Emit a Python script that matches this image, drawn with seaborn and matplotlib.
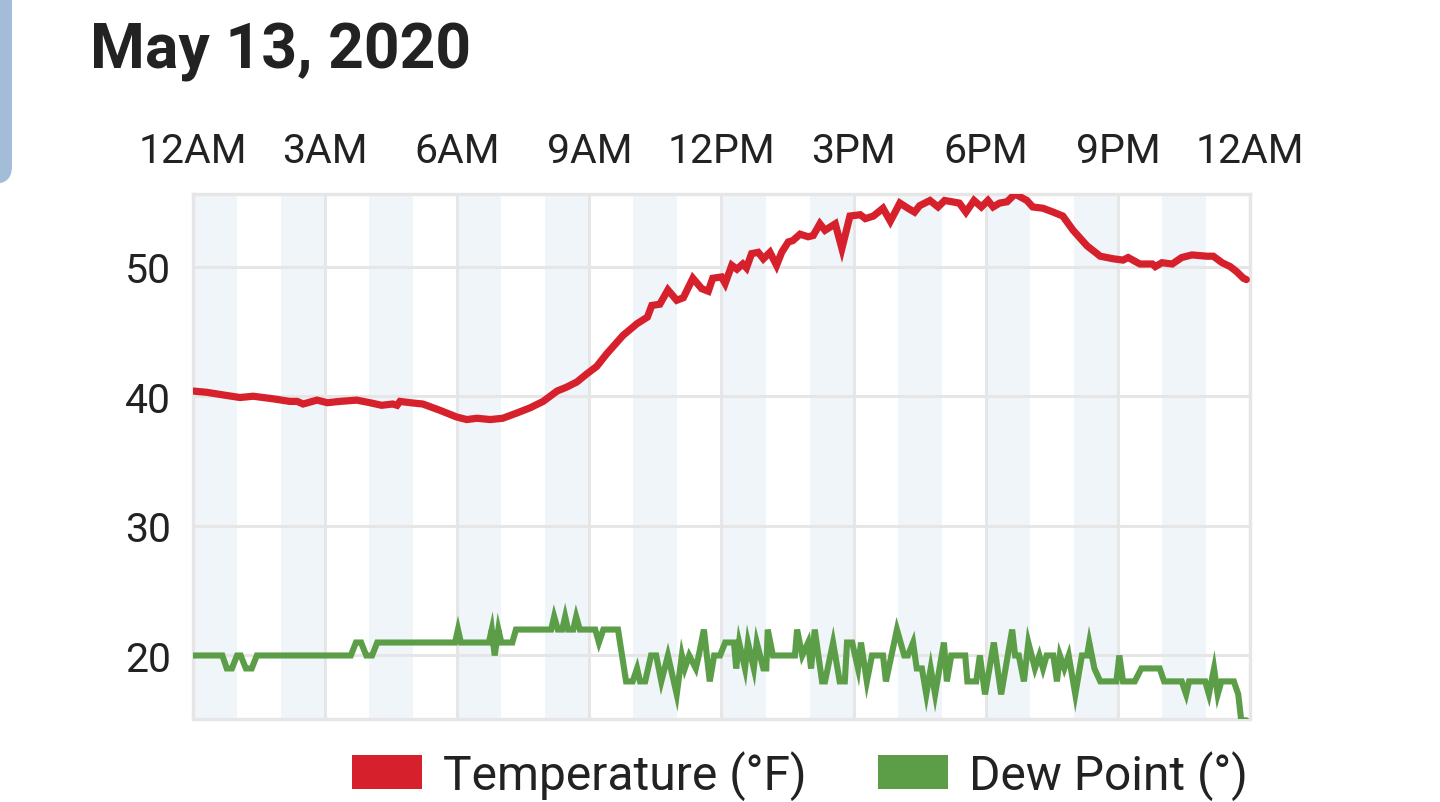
import matplotlib
matplotlib.use("Agg")
import matplotlib.pyplot as plt
from matplotlib.patches import Patch, FancyBboxPatch
import pandas as pd
import seaborn as sns

# -------------------------------
# Data (minutes after midnight)
# -------------------------------
temp_min = [0, 19, 41, 64, 82, 109, 132, 142, 150, 169, 183, 200, 223, 241, 257,
            272, 278, 282, 296, 313, 337, 359, 373, 387, 405, 422, 441, 459, 477,
            496, 509, 523, 536, 550, 564, 586, 605, 619, 625, 636, 647, 659, 668,
            681, 693, 702, 708, 720, 725, 734, 741, 749, 754, 761, 770, 777, 786,
            795, 802, 811, 817, 827, 838, 845, 854, 861, 875, 884, 895, 909, 916,
            927, 940, 950, 963, 974, 983, 990, 1004, 1015, 1024, 1044, 1053, 1064,
            1074, 1083, 1090, 1099, 1109, 1120, 1136, 1144, 1158, 1172, 1185, 1199,
            1218, 1236, 1254, 1267, 1274, 1290, 1307, 1311, 1320, 1334, 1347, 1361,
            1381, 1390, 1402, 1413, 1422, 1431, 1435]
temp_val = [40.4, 40.3, 40.1, 39.9, 40.0, 39.8, 39.6, 39.6, 39.4, 39.7, 39.5, 39.6,
            39.7, 39.5, 39.3, 39.4, 39.3, 39.6, 39.5, 39.4, 38.9, 38.4, 38.2, 38.3,
            38.2, 38.3, 38.7, 39.1, 39.6, 40.4, 40.7, 41.1, 41.7, 42.3, 43.3, 44.7,
            45.6, 46.1, 47.0, 47.1, 48.2, 47.4, 47.6, 49.1, 48.3, 48.1, 49.1, 49.2,
            48.7, 50.1, 49.8, 50.2, 49.9, 51.0, 51.1, 50.6, 51.1, 50.1, 51.1, 51.9,
            52.0, 52.5, 52.3, 52.4, 53.3, 52.8, 53.3, 51.4, 53.9, 54.0, 53.7, 53.9,
            54.5, 53.5, 54.9, 54.5, 54.2, 54.7, 55.1, 54.6, 55.1, 54.9, 54.2, 55.1,
            54.6, 55.1, 54.6, 54.9, 55.0, 55.6, 55.1, 54.6, 54.5, 54.2, 53.9, 52.8,
            51.6, 50.8, 50.6, 50.5, 50.7, 50.2, 50.2, 50.0, 50.3, 50.2, 50.7, 50.9,
            50.8, 50.8, 50.3, 50.0, 49.6, 49.1, 49.0]

dew_min = [0, 40, 46, 53, 60, 65, 72, 80, 87, 215, 222, 229, 236, 244, 251, 357,
           361, 365, 403, 407, 411, 416, 420, 435, 440, 488, 492, 497, 503, 507, 511,
           518, 522, 527, 548, 553, 559, 579, 590, 599, 605, 609, 616, 624, 631, 638,
           647, 659, 666, 670, 676, 685, 689, 696, 704, 710, 718, 725, 737, 740, 744,
           752, 756, 764, 768, 777, 781, 783, 790, 820, 823, 830, 838, 842, 847, 857,
           861, 872, 881, 888, 891, 898, 906, 910, 918, 925, 940, 944, 959, 969, 974,
           981, 986, 993, 999, 1005, 1011, 1023, 1027, 1033, 1052, 1055, 1067, 1072,
           1079, 1091, 1101, 1116, 1120, 1125, 1132, 1138, 1147, 1153, 1158, 1163,
           1172, 1177, 1181, 1187, 1193, 1202, 1211, 1218, 1221, 1228, 1236, 1258,
           1262, 1267, 1283, 1292, 1317, 1323, 1347, 1353, 1357, 1379, 1384, 1391,
           1396, 1401, 1418, 1424, 1428, 1435]
dew_val = [20, 20, 19, 19, 20, 20, 19, 19, 20, 20, 21, 21, 20, 20, 21, 21,
           22, 21, 21, 22, 20, 22, 21, 21, 22, 22, 23, 22, 22, 23, 22,
           22, 23, 22, 22, 21, 22, 22, 18, 18, 19, 18, 18, 20, 20, 18,
           20, 17, 20, 19, 20, 19, 20, 22, 18, 20, 20, 21, 21, 19, 21,
           19, 21, 19, 21, 19, 19, 22, 20, 20, 22, 20, 21, 19, 22, 18,
           18, 21, 18, 18, 21, 21, 19, 21, 18, 20, 20, 18, 22, 20, 20,
           21, 19, 19, 17, 19, 17, 21, 18, 20, 20, 18, 18, 20,
           17, 21, 17, 22, 20, 20, 18, 21, 19, 20, 19, 20,
           20, 18, 20, 19, 20, 17, 20, 20, 21, 19, 18, 18,
           20, 18, 18, 19, 19, 18, 18, 17, 18, 18, 17, 19,
           17, 18, 18, 17, 15, 15]

tick_labels = ["12AM", "3AM", "6AM", "9AM", "12PM", "3PM", "6PM", "9PM", "12AM"]
y_ticks = [20, 30, 40, 50]
series_names = ["Temperature (°F)", "Dew Point (°)"]
series_colors = ["#d6202b", "#5c9e48"]

temp_df = pd.DataFrame({"minute": temp_min, "value": temp_val})
dew_df = pd.DataFrame({"minute": dew_min, "value": dew_val})

# -------------------------------
# Style
# -------------------------------
sns.set_theme(style="white")
plt.rcParams["font.family"] = ["Roboto", "DejaVu Sans"]

W, H = 1440, 803
fig = plt.figure(figsize=(W / 100, H / 100), dpi=100)
ax = fig.add_axes([193 / W, 1 - 720 / H, (1250 - 193) / W, (720 - 195) / H])

# left tab of the page behind the chart
tab = FancyBboxPatch((-30 / W, 0.77), 42 / W, 0.3,
                     boxstyle="round,pad=0,rounding_size=0.012",
                     transform=fig.transFigure, facecolor="#a3bdd8",
                     edgecolor="none", mutation_aspect=W / H)
fig.patches.append(tab)

# light blue band every other hour
for h in range(0, 24, 2):
    ax.axvspan(h * 60, h * 60 + 60, color="#f0f5fa", lw=0, zorder=0)

sns.lineplot(data=temp_df, x="minute", y="value", ax=ax, color=series_colors[0],
             linewidth=5.2, estimator=None, zorder=4)
sns.lineplot(data=dew_df, x="minute", y="value", ax=ax, color=series_colors[1],
             linewidth=4.4, estimator=None, zorder=3)
for ln in ax.lines:
    ln.set_solid_joinstyle("miter")

ax.set_xlim(0, 1440)
ax.set_ylim(15.1, 55.6)
ax.set_xticks(range(0, 1441, 180))
ax.set_xticklabels(tick_labels)
ax.set_yticks(y_ticks)
ax.set_yticklabels([str(v) for v in y_ticks])
ax.xaxis.tick_top()
ax.tick_params(axis="x", length=0, pad=17, labelsize=29.5, labelcolor="#222222")
ax.tick_params(axis="y", length=0, pad=16, labelsize=29.5, labelcolor="#222222")
ax.set_xlabel("")
ax.set_ylabel("")

ax.grid(True, color="#e6e6e6", linewidth=2.2)
ax.set_axisbelow(True)
for sp in ax.spines.values():
    sp.set_color("#e6e6e6")
    sp.set_linewidth(2.4)
    sp.set_zorder(1)

fig.text(90 / W, 1 - 68 / H, "May 13, 2020", fontsize=45, fontweight="bold",
         color="#222222", va="baseline", ha="left")

handles = [Patch(facecolor=c, edgecolor="none", label=n)
           for c, n in zip(series_colors, series_names)]
fig.legend(handles=handles, loc="center", bbox_to_anchor=(800 / W, 1 - 776 / H),
           ncol=2, frameon=False, fontsize=34.5,
           handlelength=1.46, handleheight=0.73, handletextpad=0.44,
           columnspacing=1.5, labelcolor="#222222")

fig.savefig("out.png", dpi=100)
